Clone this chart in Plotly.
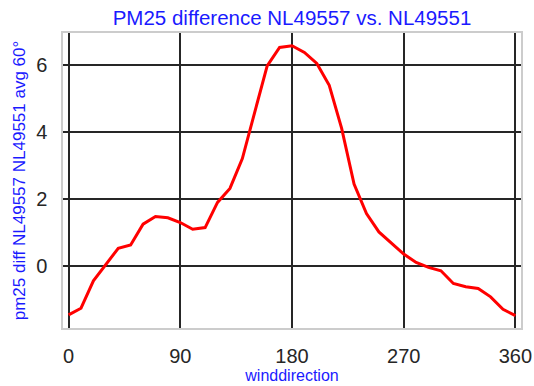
import plotly.graph_objects as go

winddirection = list(range(0, 361, 10))
pm25_diff = [-1.46, -1.26, -0.44, 0.06, 0.53, 0.63, 1.25, 1.48, 1.44, 1.30,
             1.10, 1.15, 1.90, 2.32, 3.21, 4.60, 5.98, 6.53, 6.58, 6.38,
             6.05, 5.40, 4.11, 2.45, 1.57, 1.02, 0.68, 0.36, 0.11, -0.04,
             -0.14, -0.52, -0.62, -0.67, -0.92, -1.29, -1.48]

x_ticks = [0, 90, 180, 270, 360]
y_ticks = [0, 2, 4, 6]

blue = "#1a1aff"
fig = go.Figure()
fig.add_trace(go.Scatter(x=winddirection, y=pm25_diff, mode="lines",
                         line=dict(color="#ff0000", width=3), showlegend=False))

fig.update_layout(
    width=534, height=386,
    margin=dict(l=63, r=13, t=33, b=58),
    paper_bgcolor="white", plot_bgcolor="white",
    font=dict(family="Liberation Sans, Arial, sans-serif", color="#262626"),
    title=dict(text="PM25 difference NL49557 vs. NL49551", x=0.5, xanchor="center",
               xref="paper", y=0.955, yanchor="middle",
               font=dict(size=20.5, color=blue)),
)
fig.update_xaxes(
    range=[-4.5, 364.5], tickvals=x_ticks, ticktext=[str(v) for v in x_ticks],
    showgrid=True, gridcolor="#262626", gridwidth=1.5,
    showline=True, linecolor="#cccccc", linewidth=1.5, mirror=True,
    ticks="outside", ticklen=9, tickcolor="rgba(0,0,0,0)",
    tickfont=dict(size=20, color="#262626"), zeroline=False, automargin=False,
    title=dict(text="winddirection", font=dict(size=16, color=blue), standoff=2),
)
fig.update_yaxes(
    range=[-1.85, 6.96], tickvals=y_ticks, ticktext=[str(v) for v in y_ticks],
    showgrid=True, gridcolor="#262626", gridwidth=1.5,
    showline=True, linecolor="#cccccc", linewidth=1.5, mirror=True,
    ticks="outside", ticklen=10, tickcolor="rgba(0,0,0,0)",
    tickfont=dict(size=20, color="#262626"), zeroline=False, automargin=False,
    title=dict(text="pm25 diff NL49557 NL49551 avg 60°", font=dict(size=17, color=blue), standoff=6),
)

fig.write_html("out.html")
